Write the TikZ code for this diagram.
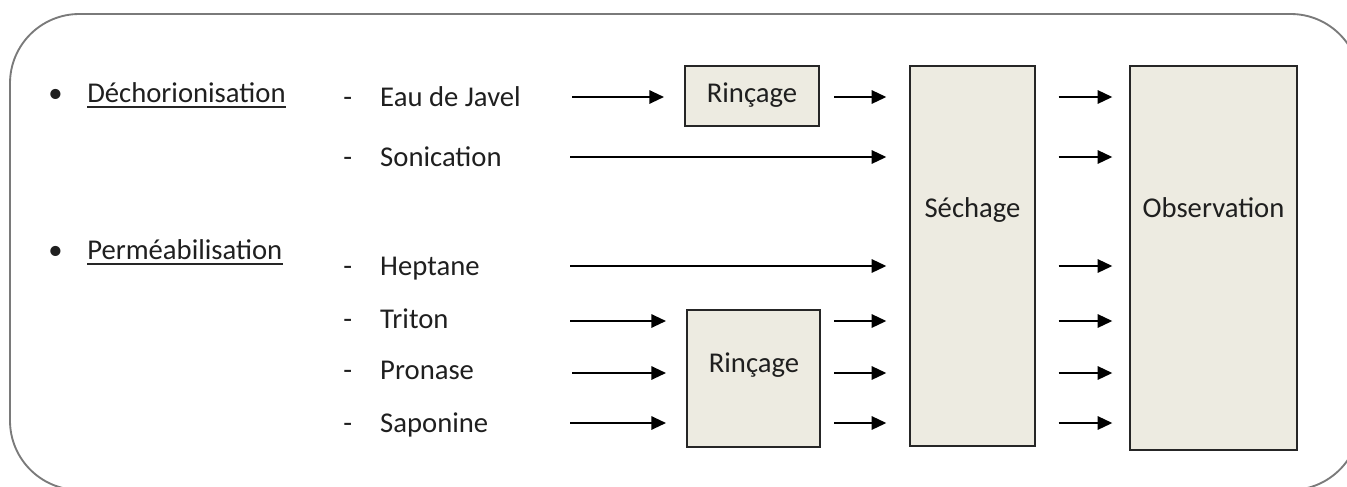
\documentclass[tikz,border=0pt]{standalone}
\usepackage{fontspec}
\setmainfont{Carlito}
\usetikzlibrary{arrows.meta}
\definecolor{boxfill}{HTML}{EDEBE1}
\definecolor{framegray}{HTML}{7A7A7A}
\tikzset{
  txt/.style={font=\fontsize{21.5}{24}\selectfont, inner sep=0pt, anchor=base west, text=black!88},
  ctxt/.style={font=\fontsize{21.5}{24}\selectfont, inner sep=0pt, anchor=base, text=black!88},
  proc/.style={draw=black!85, line width=1.5pt, fill=boxfill, inner sep=0pt},
  arr/.style={line width=1.5pt, draw=black, -{Triangle[length=11pt,width=10pt]}},
  uline/.style={line width=1.4pt, draw=black!85}
}
\newcommand{\dashlbl}[1]{\makebox[27.75pt][l]{-}#1}
\begin{document}
\begin{tikzpicture}[x=0.75pt,y=-0.75pt]
\useasboundingbox (0,0) rectangle (1347,486);
\begin{scope}
  \clip (0,0) rectangle (1347,486);
  \draw[framegray, line width=1.4pt, rounded corners=52pt] (10,14) rectangle (1360,490);
\end{scope}

% left headings
\node[txt] (b1) at (48,102) {•};
\node[txt] (h1) at (87,102) {Déchorionisation};
\draw[uline] ([yshift=-4pt]h1.base west) -- ([yshift=-4pt]h1.base east);
\node[txt] (b2) at (48,259) {•};
\node[txt] (h2) at (87,259) {Perméabilisation};
\draw[uline] ([yshift=-4pt]h2.base west) -- ([yshift=-4pt]h2.base east);

% items
\node[txt] (ej) at (343,106) {\dashlbl{Eau de Javel}};
\node[txt] (so) at (343,166) {\dashlbl{Sonication}};
\node[txt] (he) at (343,275) {\dashlbl{Heptane}};
\node[txt] (tr) at (343,328) {\dashlbl{Triton}};
\node[txt] (pr) at (343,379) {\dashlbl{Pronase}};
\node[txt] (sa) at (343,432) {\dashlbl{Saponine}};

% arrow start coordinates
\coordinate (cej) at (572,97);
\coordinate (cso) at (570,157);
\coordinate (che) at (570,266);
\coordinate (ctr) at (570,321);
\coordinate (cpr) at (572,373);
\coordinate (csa) at (570,423);

% boxes
\node[proc, minimum width=100.5pt, minimum height=45pt] (r1) at (752,96) {};
\node[ctxt] (r1t) at (752,102) {Rinçage};
\node[proc, minimum width=99.75pt, minimum height=102.75pt] (r2) at (753.5,378.5) {};
\node[ctxt] (r2t) at (754,372) {Rinçage};
\node[proc, minimum width=93.75pt, minimum height=285pt] (s) at (972.5,256) {};
\node[ctxt] (st) at (972.5,217) {Séchage};
\node[proc, minimum width=125.25pt, minimum height=288pt] (o) at (1213.5,258) {};
\node[ctxt] (ot) at (1213.5,217) {Observation};

% arrows into first column
\draw[arr, shorten >=15pt] (cej) -- (r1.west |- cej);
\draw[arr, shorten <=10.5pt, shorten >=17pt] (r1.east |- cej) -- (s.west |- cej);
\draw[arr, shorten >=17pt] (cso) -- (s.west |- cso);
\draw[arr, shorten >=17pt] (che) -- (s.west |- che);
\foreach \c in {ctr,cpr,csa}{
  \draw[arr, shorten >=15pt] (\c) -- (r2.west |- \c);
  \draw[arr, shorten <=10pt, shorten >=17pt] (r2.east |- \c) -- (s.west |- \c);
}
% Séchage -> Observation
\foreach \c in {cej,cso,che,ctr,cpr,csa}{
  \draw[arr, shorten <=17pt, shorten >=12.5pt] (s.east |- \c) -- (o.west |- \c);
}
\end{tikzpicture}
\end{document}
